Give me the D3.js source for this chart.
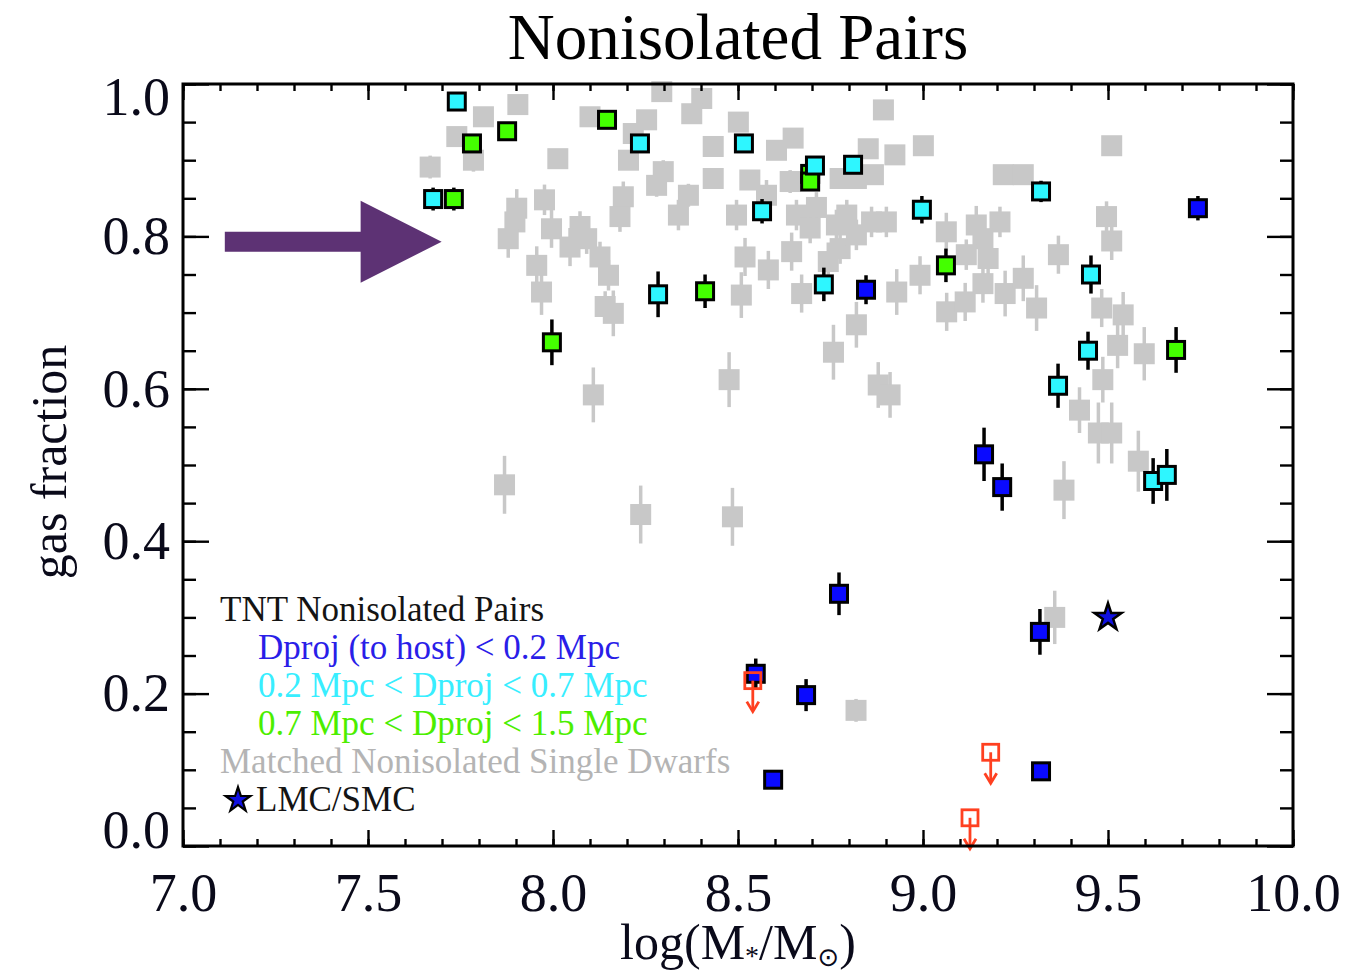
<!DOCTYPE html>
<html><head><meta charset="utf-8">
<script src="https://cdn.jsdelivr.net/npm/d3@7"></script>
<style>body{margin:0;background:#fff}svg{display:block}</style>
</head><body>
<svg id="c" width="1346" height="979"></svg>
<script>
// ---------------- data ----------------
const xTicks = [7.0, 7.5, 8.0, 8.5, 9.0, 9.5, 10.0];
const yTicks = [0.0, 0.2, 0.4, 0.6, 0.8, 1.0];

// Matched nonisolated single dwarfs (gray)
const grayX = [7.812,7.905,7.740,7.785,7.668,8.013,8.100,7.902,7.897,7.879,7.977,7.996,7.956,7.969,8.046,8.073,8.091,8.127,8.150,8.141,8.163,8.109,7.869,
  8.294,8.402,8.375,8.253,8.217,8.204,8.298,8.280,8.366,8.339,8.190,8.181,8.433,8.433,8.501,8.532,8.496,8.577,8.604,8.649,8.641,8.658,8.712,8.766,8.776,8.776,8.519,8.582,8.509,8.672,8.758,8.476,8.237,8.485,8.645,8.695,8.744,
  8.893,9.001,8.852,8.924,8.866,8.820,9.217,9.271,8.794,8.861,8.901,8.820,9.063,9.144,9.162,9.176,9.117,9.208,9.366,8.992,8.929,9.162,9.064,9.114,9.222,9.271,9.307,8.820,8.879,8.911,9.381,
  9.510,9.496,9.510,9.483,9.541,9.526,9.598,9.486,9.423,9.474,9.510,9.582,9.356,8.819];
const grayY = [0.957,0.973,0.931,0.900,0.891,0.902,0.957,0.837,0.819,0.797,0.848,0.810,0.762,0.727,0.786,0.813,0.797,0.773,0.749,0.708,0.699,0.592,0.474,
  0.990,0.981,0.961,0.953,0.935,0.900,0.885,0.867,0.854,0.828,0.852,0.826,0.918,0.876,0.950,0.874,0.828,0.854,0.913,0.929,0.872,0.828,0.838,0.815,0.784,0.876,0.773,0.756,0.723,0.725,0.648,0.612,0.435,0.432,0.780,0.811,0.767,
  0.966,0.919,0.915,0.907,0.881,0.876,0.881,0.881,0.828,0.819,0.819,0.802,0.806,0.815,0.797,0.771,0.776,0.819,0.776,0.749,0.727,0.738,0.701,0.714,0.725,0.745,0.706,0.684,0.605,0.592,0.467,
  0.919,0.826,0.794,0.706,0.697,0.657,0.646,0.612,0.572,0.542,0.542,0.505,0.300,0.178];
const grayErr = [0,0,0,0.015,0.015,0.012,0,0.025,0.02,0.025,0.02,0.025,0.025,0.03,0.025,0.02,0.02,0.02,0.02,0.02,0.03,0.036,0.038,
  0,0,0,0,0,0,0.015,0.015,0.015,0.02,0.02,0.02,0,0.012,0,0.012,0.02,0.02,0.012,0,0.015,0.02,0.02,0.02,0.02,0.012,0.025,0.025,0.03,0.025,0.036,0.036,0.038,0.038,0.025,0.02,0.025,
  0,0,0,0.01,0.012,0.012,0.012,0.012,0.02,0.02,0.02,0.02,0.025,0.025,0.02,0.025,0.02,0.02,0.025,0.025,0.03,0.025,0.025,0.025,0.03,0.03,0.03,0.03,0.03,0.03,0.038,
  0,0.02,0.025,0.025,0.03,0.03,0.035,0.03,0.03,0.04,0.04,0.04,0.035,0.015];

// Dproj < 0.2 Mpc (blue)
const blueX = [9.743,8.846,9.165,9.214,8.773,8.548,8.684,8.595,9.316,9.319];
const blueY = [0.837,0.730,0.514,0.471,0.331,0.226,0.198,0.087,0.281,0.098];
const blueErr = [0.016,0.019,0.035,0.031,0.028,0.02,0.021,0,0.03,0];

// 0.2 < Dproj < 0.7 Mpc (cyan)
const cyanX = [7.740,8.235,8.516,7.676,8.565,8.284,8.708,8.811,9.319,8.997,8.732,9.454,9.446,9.365,9.622,9.659];
const cyanY = [0.977,0.922,0.922,0.849,0.833,0.724,0.893,0.894,0.859,0.835,0.737,0.750,0.650,0.604,0.479,0.487];
const cyanErr = [0,0,0,0.015,0.016,0.03,0.01,0.008,0.014,0.018,0.022,0.025,0.025,0.029,0.03,0.034];

// 0.7 < Dproj < 1.5 Mpc (green)
const greenX = [7.781,7.876,8.146,7.732,8.411,7.997,8.695,8.695,9.062,9.684];
const greenY = [0.922,0.938,0.953,0.849,0.728,0.661,0.882,0.872,0.762,0.651];
const greenErr = [0,0,0,0.015,0.022,0.03,0,0,0.022,0.03];

// upper limits (red open squares)
const limX = [8.540,9.183,9.127];
const limY = [0.217,0.123,0.037];

// LMC/SMC
const starX = [9.50];
const starY = [0.30];

// annotation arrow (data coords)
const arrowFrom = [7.113, 0.793];
const arrowTo = [7.699, 0.793];

const legendLines = [
  {text:"TNT Nonisolated Pairs", color:"#141414", indent:0},
  {text:"Dproj (to host) < 0.2 Mpc", color:"#2a1ee8", indent:1},
  {text:"0.2 Mpc < Dproj < 0.7 Mpc", color:"#38eeff", indent:1},
  {text:"0.7 Mpc < Dproj < 1.5 Mpc", color:"#4cee00", indent:1},
  {text:"Matched Nonisolated Single Dwarfs", color:"#b4b4b4", indent:0},
  {text:"LMC/SMC", color:"#141414", indent:1, star:true}
];

// ---------------- drawing ----------------
const serif = "'Liberation Serif','Times New Roman',Times,serif";
const svg = d3.select("#c");
const L = 183, R = 1293, T = 84, B = 846;
const x = d3.scaleLinear().domain([7,10]).range([L,R]);
const y = d3.scaleLinear().domain([0,1]).range([B,T]);

const zip = (xs, ys, es) => xs.map((v,i)=>({x:v, y:ys[i], e:es ? es[i] : 0}));

// title
svg.append("text").attr("x",(L+R)/2).attr("y",59).attr("text-anchor","middle")
  .attr("font-family",serif).attr("font-size",65).attr("fill","#000").text("Nonisolated Pairs");

// gray points
const gray = zip(grayX, grayY, grayErr);
const gG = svg.append("g");
gG.selectAll("line").data(gray.filter(d=>d.e>0)).join("line")
  .attr("x1",d=>x(d.x)).attr("x2",d=>x(d.x)).attr("y1",d=>y(d.y-d.e)).attr("y2",d=>y(d.y+d.e))
  .attr("stroke","#c8c8c8").attr("stroke-width",3.5);
const gs = 21;
gG.selectAll("rect").data(gray).join("rect")
  .attr("x",d=>x(d.x)-gs/2).attr("y",d=>y(d.y)-gs/2).attr("width",gs).attr("height",gs)
  .attr("fill","#c8c8c8");

// colored series
function series(data, fill){
  const g = svg.append("g");
  g.selectAll("line").data(data.filter(d=>d.e>0)).join("line")
    .attr("x1",d=>x(d.x)).attr("x2",d=>x(d.x)).attr("y1",d=>y(d.y-d.e)).attr("y2",d=>y(d.y+d.e))
    .attr("stroke","#000").attr("stroke-width",3.5);
  const s = 17;
  g.selectAll("rect").data(data).join("rect")
    .attr("x",d=>x(d.x)-s/2).attr("y",d=>y(d.y)-s/2).attr("width",s).attr("height",s)
    .attr("fill",fill).attr("stroke","#000").attr("stroke-width",3);
}
series(zip(greenX,greenY,greenErr), "#44ff00");
series(zip(cyanX,cyanY,cyanErr), "#2ef6ff");
series(zip(blueX,blueY,blueErr), "#0a0aff");

// upper limits
const red = "#ff4020";
const lg = svg.append("g");
const lim = zip(limX, limY);
lg.selectAll("line.s").data(lim).join("line").attr("class","s")
  .attr("x1",d=>x(d.x)).attr("x2",d=>x(d.x)).attr("y1",d=>y(d.y)).attr("y2",d=>y(d.y)+30)
  .attr("stroke",red).attr("stroke-width",2.8);
lg.selectAll("path").data(lim).join("path")
  .attr("d",d=>{const cx=x(d.x), cy=y(d.y)+31; return `M${cx-6},${cy-10}L${cx},${cy}L${cx+6},${cy-10}`;})
  .attr("fill","none").attr("stroke",red).attr("stroke-width",2.8);
lg.selectAll("rect").data(lim).join("rect")
  .attr("x",d=>x(d.x)-8).attr("y",d=>y(d.y)-8).attr("width",16).attr("height",16)
  .attr("fill","none").attr("stroke",red).attr("stroke-width",2.8);

// star
const starPath = d3.symbol().type(d3.symbolStar).size(230);
svg.append("g").selectAll("path").data(zip(starX,starY)).join("path")
  .attr("transform",d=>`translate(${x(d.x)},${y(d.y)})`).attr("d",starPath)
  .attr("fill","#1010e0").attr("stroke","#000").attr("stroke-width",2.5);

// arrow
{
  const x0 = x(arrowFrom[0]), x1 = x(arrowTo[0]), yc = y(arrowTo[1]);
  const hb = x1 - 81;
  svg.append("path")
    .attr("d",`M${x0},${yc-10}L${hb},${yc-10}L${hb},${yc-41}L${x1},${yc}L${hb},${yc+41}L${hb},${yc+10}L${x0},${yc+10}Z`)
    .attr("fill","#5d3274");
}

// axes
function ax(axis, tr, w){
  const g = svg.append("g").attr("transform",tr).call(axis);
  g.select(".domain").remove();
  g.selectAll("line").attr("stroke","#000").attr("stroke-width",w||2.4);
  g.selectAll("text").attr("font-family",serif).attr("font-size",54).attr("fill","#0a0a1a");
  return g;
}
const xMinor = d3.range(0,31).map(i=>7+i*0.1);
const yMinor = d3.range(0,21).map(i=>i*0.05);
ax(d3.axisBottom(x).tickValues(xMinor).tickSize(-7).tickFormat(""), `translate(0,${B})`);
ax(d3.axisTop(x).tickValues(xMinor).tickSize(-7).tickFormat(""), `translate(0,${T})`);
ax(d3.axisLeft(y).tickValues(yMinor).tickSize(-13).tickFormat(""), `translate(${L},0)`);
ax(d3.axisRight(y).tickValues(yMinor).tickSize(-13).tickFormat(""), `translate(${R},0)`);
ax(d3.axisBottom(x).tickValues(xTicks).tickSize(-16).tickPadding(27).tickFormat(d3.format(".1f")), `translate(0,${B})`);
ax(d3.axisTop(x).tickValues(xTicks).tickSize(-16).tickFormat(""), `translate(0,${T})`);
const yl = ax(d3.axisLeft(y).tickValues(yTicks).tickSize(-26).tickPadding(13).tickFormat(d3.format(".1f")), `translate(${L},0)`);
ax(d3.axisRight(y).tickValues(yTicks).tickSize(-26).tickFormat(""), `translate(${R},0)`);
// shift end labels inward like the original
yl.selectAll("g.tick").filter(d=>d===1.0).select("text").attr("y",13);
yl.selectAll("g.tick").filter(d=>d===0.0).select("text").attr("y",-16);

// frame
svg.append("rect").attr("x",L).attr("y",T).attr("width",R-L).attr("height",B-T)
  .attr("fill","none").attr("stroke","#000").attr("stroke-width",3);

// axis titles
const xt = svg.append("text").attr("x",(L+R)/2).attr("y",959).attr("text-anchor","middle")
  .attr("font-family",serif).attr("font-size",50).attr("fill","#0a0a1a");
xt.append("tspan").text("log(M");
xt.append("tspan").attr("font-size",28).attr("dy",6).text("*");
xt.append("tspan").attr("dy",-6).text("/M");
xt.append("tspan").attr("font-size",26).attr("dy",7).attr("font-family","'DejaVu Sans',sans-serif").text("\u2299");
xt.append("tspan").attr("dy",-7).text(")");

svg.append("text").attr("transform","translate(66,462) rotate(-90)").attr("text-anchor","middle")
  .attr("font-family",serif).attr("font-size",50).attr("fill","#0a0a1a").text("gas fraction");

// legend
const lgd = svg.append("g");
legendLines.forEach((l,i)=>{
  const by = 621 + i*38;
  lgd.append("text").attr("x", l.indent ? (l.star ? 256 : 258) : 220).attr("y",by)
    .attr("font-family",serif).attr("font-size",35).attr("fill",l.color).text(l.text);
  if(l.star){
    lgd.append("path").attr("transform",`translate(238,${by-11})`).attr("d",d3.symbol().type(d3.symbolStar).size(190))
      .attr("fill","#1010e0").attr("stroke","#000").attr("stroke-width",2.2);
  }
});
</script>
</body></html>
